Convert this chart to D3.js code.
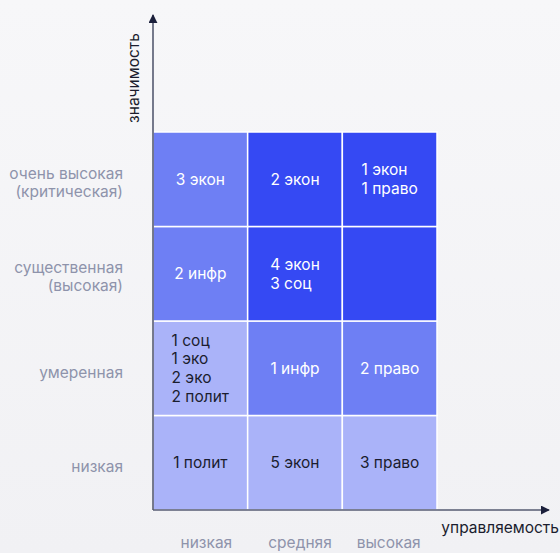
<!DOCTYPE html>
<html><head><meta charset="utf-8">
<script src="https://cdn.jsdelivr.net/npm/d3@7/dist/d3.min.js"></script>
<style>html,body{margin:0;padding:0;background:#f4f4f7;}svg{display:block;}</style>
</head><body>
<svg id="chart" width="560" height="553"></svg>
<script>
// Data
const xCategories = ["низкая", "средняя", "высокая"]; // управляемость
const yCategories = ["низкая", "умеренная", "существенная|(высокая)", "очень высокая|(критическая)"]; // значимость (bottom → top)
// level for colour (1 light, 2 mid, 3 dark), rows bottom → top, columns left → right
const levels = [
  [1, 1, 1],
  [1, 2, 2],
  [2, 3, 3],
  [2, 3, 3]
];
const cellLabels = [
  [["1 полит"], ["5 экон"], ["3 право"]],
  [["1 соц", "1 эко", "2 эко", "2 полит"], ["1 инфр"], ["2 право"]],
  [["2 инфр"], ["4 экон", "3 соц"], []],
  [["3 экон"], ["2 экон"], ["1 экон", "1 право"]]
];
const xTitle = "управляемость";
const yTitle = "значимость";

const svg = d3.select("#chart");
const W = 560, H = 553;
const font = "Inter, 'Noto Sans', sans-serif";
const fs = 15.5;

const defs = svg.append("defs");
const grad = defs.append("linearGradient").attr("id", "bg").attr("x1", 0).attr("y1", 0).attr("x2", 0).attr("y2", 1);
grad.append("stop").attr("offset", "0%").attr("stop-color", "#f7f7f9");
grad.append("stop").attr("offset", "100%").attr("stop-color", "#f1f1f4");
svg.append("rect").attr("width", W).attr("height", H).attr("fill", "url(#bg)");

const pLeft = 153, pRight = 437, pTop = 132, pBottom = 510;
const x = d3.scaleBand().domain(d3.range(xCategories.length)).range([pLeft, pRight]);
const y = d3.scaleBand().domain(d3.range(yCategories.length)).range([pBottom, pTop]);
const color = d3.scaleOrdinal().domain([1, 2, 3]).range(["#aab3f9", "#6e7ff4", "#3549f3"]);

const cells = [];
levels.forEach((row, r) => row.forEach((lv, c) => cells.push({r, c, lv, lines: cellLabels[r][c]})));

svg.append("g").selectAll("rect").data(cells).join("rect")
  .attr("x", d => x(d.c)).attr("y", d => y(d.r))
  .attr("width", x.bandwidth()).attr("height", y.bandwidth())
  .attr("fill", d => color(d.lv))
  .attr("stroke", "#ffffff").attr("stroke-width", 1.5);

// measure helper
const meas = svg.append("text").attr("font-family", font).attr("font-size", fs).attr("visibility", "hidden");
function tw(s) { meas.text(s); return meas.node().getComputedTextLength(); }

const lh = 18.8;
const tg = svg.append("g").attr("font-family", font).attr("font-size", fs);
cells.forEach(d => {
  if (!d.lines.length) return;
  const cx = x(d.c) + x.bandwidth() / 2;
  const cy = y(d.r) + y.bandwidth() / 2;
  const maxW = d3.max(d.lines, tw);
  const x0 = d.lines.length > 1 ? cx - maxW / 2 : cx;
  const t = tg.append("text")
    .attr("text-anchor", d.lines.length > 1 ? "start" : "middle")
    .attr("fill", d.lv === 1 ? "#1b1d2e" : "#ffffff");
  d.lines.forEach((ln, i) => {
    t.append("tspan").attr("x", x0)
      .attr("y", cy + (i - (d.lines.length - 1) / 2) * lh + 5.5)
      .text(ln);
  });
});

// Y category labels
const yl = svg.append("g").attr("font-family", font).attr("font-size", fs).attr("fill", "#8e93ab").attr("text-anchor", "end");
yCategories.forEach((lab, i) => {
  const parts = lab.split("|");
  const cy = y(i) + y.bandwidth() / 2 + (parts.length > 1 ? 3 : 4);
  const t = yl.append("text");
  parts.forEach((p, k) => {
    t.append("tspan").attr("x", 123).attr("y", cy + (k - (parts.length - 1) / 2) * 18 + 5.5).text(p);
  });
});

// X category labels
svg.append("g").attr("font-family", font).attr("font-size", fs).attr("fill", "#8e93ab").attr("text-anchor", "middle")
  .selectAll("text").data(xCategories).join("text")
  .attr("x", (d, i) => x(i) + x.bandwidth() / 2 + [6, 5, -1][i])
  .attr("y", 548).text(d => d);

// Axes
defs.append("marker").attr("id", "arr").attr("viewBox", "0 0 10 10").attr("refX", 9).attr("refY", 5)
  .attr("markerWidth", 9).attr("markerHeight", 9).attr("markerUnits", "userSpaceOnUse").attr("orient", "auto")
  .append("path").attr("d", "M0,0L10,5L0,10Z").attr("fill", "#1b1f3b");
svg.append("line").attr("x1", pLeft).attr("y1", pBottom).attr("x2", pLeft).attr("y2", 15)
  .attr("stroke", "#555a70").attr("stroke-width", 1.6).attr("marker-end", "url(#arr)");
svg.append("line").attr("x1", pLeft).attr("y1", pBottom).attr("x2", 549).attr("y2", pBottom)
  .attr("stroke", "#555a70").attr("stroke-width", 1.6).attr("marker-end", "url(#arr)");

// Axis titles
svg.append("text").attr("font-family", font).attr("font-size", fs).attr("fill", "#1b1d2e")
  .attr("text-anchor", "end").attr("x", 559).attr("y", 533).text(xTitle);
svg.append("text").attr("font-family", font).attr("font-size", fs).attr("fill", "#1b1d2e")
  .attr("text-anchor", "middle").attr("transform", "translate(139,78) rotate(-90)").text(yTitle);
</script>
</body></html>
